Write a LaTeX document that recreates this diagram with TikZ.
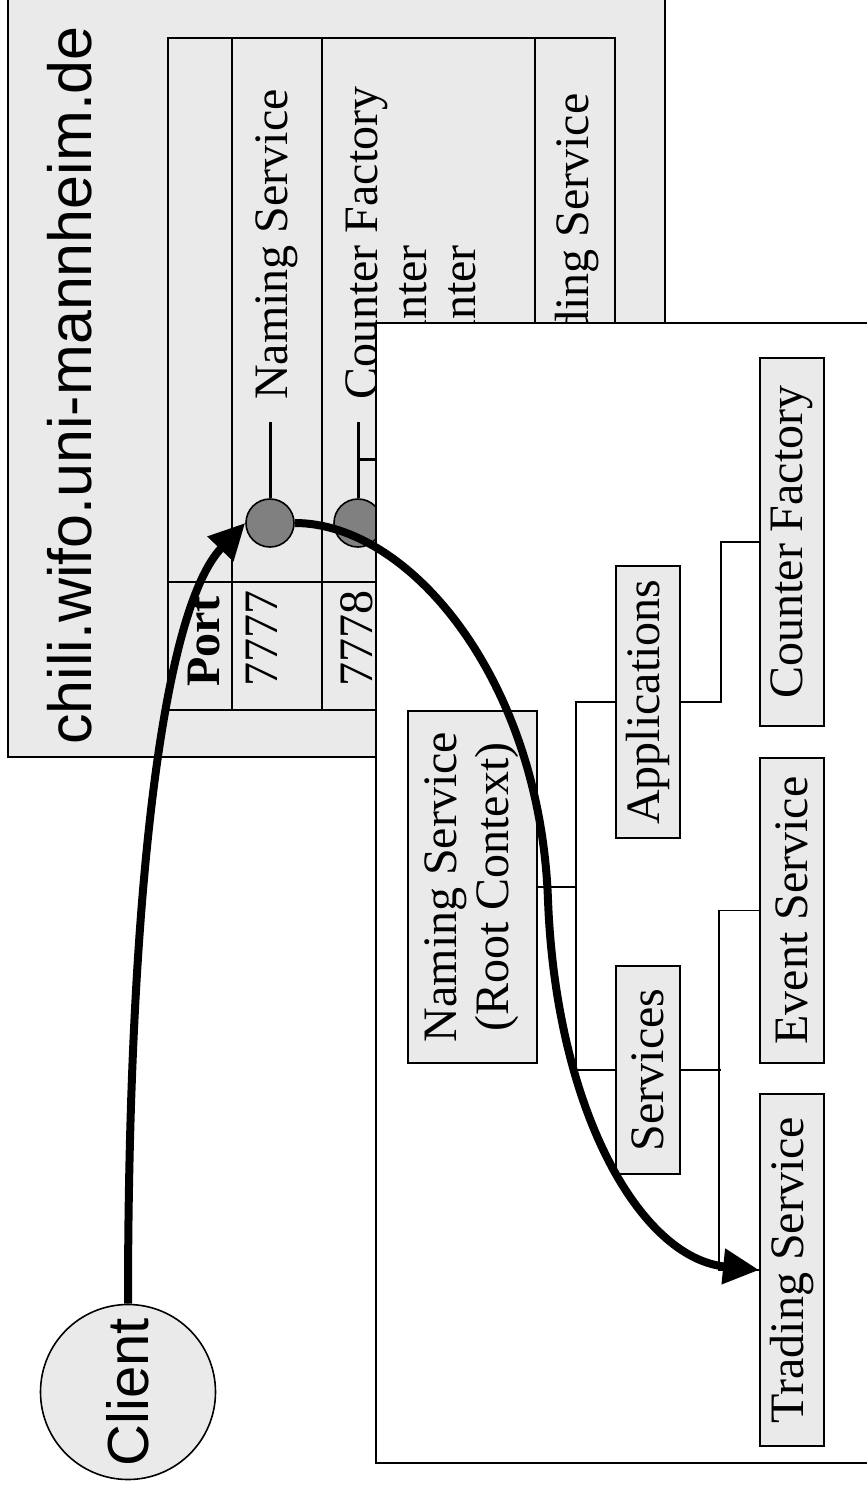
\documentclass[tikz,border=0pt]{standalone}
\usepackage{fontspec}
\setmainfont{Liberation Serif}
\newfontfamily\arialfont{Liberation Sans}
\usepackage{graphicx}
\usetikzlibrary{arrows.meta}
\definecolor{panel}{RGB}{234,234,234}
\definecolor{portfill}{RGB}{128,128,128}
\begin{document}
\begin{tikzpicture}[x=1pt,y=-1pt,
  outline/.style={draw=black,line width=1.8pt},
  panelbox/.style={outline,fill=panel},
  entry/.style={font=\fontsize{48}{52}\selectfont,inner sep=0pt,rotate=90,anchor=base west},
  treebox/.style={panelbox,inner sep=0pt,font=\fontsize{48}{52}\selectfont},
  wire/.style={line width=1.6pt},
  stem/.style={line width=3pt},
  port/.style={circle,draw=black,line width=1.6pt,fill=portfill,minimum size=48pt,inner sep=0pt},
  flow/.style={line width=8pt,-{Triangle[length=36pt,width=34pt]}}
]
\useasboundingbox (0,0) rectangle (867,1492);

% host panel with its name
\path[panelbox] (8,-20) rectangle (665,757);
\node[font=\arialfont\fontsize{61}{70}\selectfont,inner sep=0pt,rotate=90,anchor=base west]
  (host) at (91,745) {chili.wifo.uni-mannheim.de};

% port table
\draw[outline] (168,38) rectangle (615,710);
\foreach \x in {232,322,535} \draw[outline] (\x,38) -- (\x,710);
\draw[outline] (168,582) -- (615,582);

\node[entry,font=\bfseries\fontsize{48}{52}\selectfont] (porthead) at (219,687) {Port};
\node[entry] (p7777) at (277,687) {7777};
\node[entry] (p7778) at (372,687) {7778};
\node[entry] (nsname) at (287,400) {Naming Service};
\node[entry] (cfname) at (377,400) {Counter Factory};
\node[entry] (c1name) at (426,400) {Counter};
\node[entry] (c2name) at (475,400) {Counter};
\node[entry] (tsname) at (588,400) {Trading Service};

% listening ports
\node[port] (pN) at (270,523) {};
\node[port] (pC) at (358,523) {};
\draw[stem] (pN.north) -- ++(0,-76);
\draw[stem] (pC.north) -- ++(0,-76);
\draw[stem] (pC.north) ++(0,-39) -- ++(45,0);

% naming context panel
\draw[outline,fill=white] (376,323) rectangle (890,1463);

\node[treebox,minimum width=129pt,minimum height=352pt] (root) at (472.5,887)
  {\rotatebox{90}{\begin{tabular}{@{}c@{}}Naming Service\\(Root Context)\end{tabular}}};
\node[treebox,minimum width=64pt,minimum height=272pt] (apps) at (648,702) {\rotatebox{90}{Applications}};
\node[treebox,minimum width=64pt,minimum height=208pt] (services) at (648,1070) {\rotatebox{90}{Services}};
\node[treebox,minimum width=64pt,minimum height=368pt] (cf) at (792,542) {\rotatebox{90}{Counter Factory}};
\node[treebox,minimum width=64pt,minimum height=305pt] (event) at (792,910.5) {\rotatebox{90}{Event Service}};
\node[treebox,minimum width=64pt,minimum height=352pt] (trading) at (792,1270) {\rotatebox{90}{Trading Service}};

\coordinate (trunk) at (576,887);
\draw[wire] (root.east) -- (trunk);
\draw[wire] (apps.west) -| (trunk) |- (services.west);
\draw[wire] (apps.east) -- ++(40,0) |- (cf.west);
\draw[wire] (services.east) -- ++(40,0);
\draw[wire] (event.west) -- ++(-40,0) |- (trading.west);

% client
\node[circle,draw=black,line width=1.6pt,fill=panel,minimum size=175pt,inner sep=0pt,
  font=\arialfont\fontsize{58}{64}\selectfont] (client) at (128,1392) {\rotatebox{90}{Client}};

% resolution path
\coordinate (bend) at (548,900);
\draw[flow] (client.north) .. controls (128,900) and (162,610) .. (pN.west);
\draw[flow] (pN.east) .. controls (410,523) and (540,680) .. (bend)
  .. controls (556,1110) and (640,1258) .. (trading.west);
\end{tikzpicture}
\end{document}
